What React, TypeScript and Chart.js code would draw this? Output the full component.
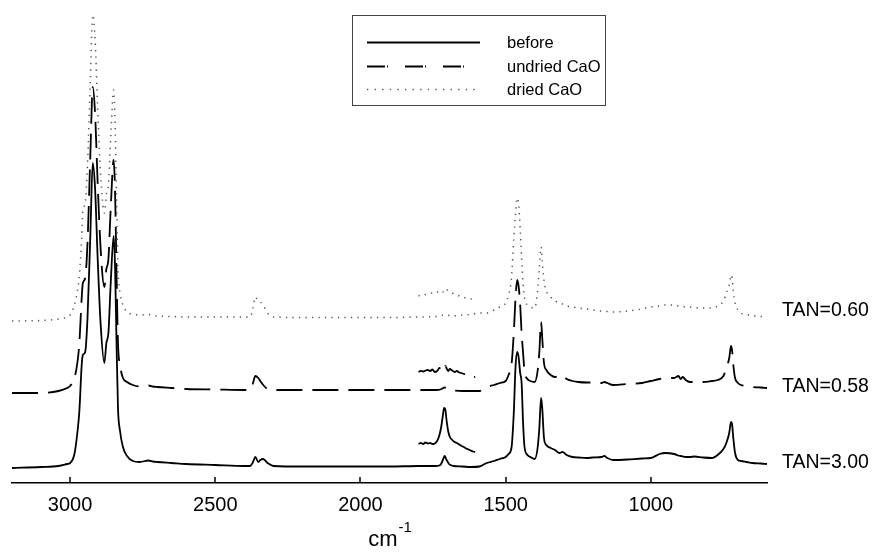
import React, { useEffect, useRef } from "react";
import { Chart, registerables } from "chart.js";

Chart.register(...registerables);

// Wavenumber grid (cm^-1) shared by the three full spectra
const WAVENUMBERS = [
  3200, 3100, 3040, 3010, 3000, 2985, 2975, 2968, 2960, 2956, 2948, 2940, 2930, 2922, 2914, 2905,
  2895, 2882, 2875, 2868, 2860, 2850, 2845, 2840, 2835, 2828, 2818, 2804, 2784, 2760, 2730, 2715,
  2700, 2650, 2600, 2500, 2400, 2380, 2370, 2362, 2352, 2345, 2335, 2320, 2300, 2200, 2100, 2000,
  1900, 1800, 1740, 1725, 1715, 1710, 1705, 1695, 1680, 1650, 1620, 1590, 1565, 1540, 1520, 1500,
  1490, 1480, 1472, 1466, 1460, 1455, 1450, 1445, 1440, 1435, 1425, 1415, 1400, 1390, 1384, 1378,
  1374, 1368, 1360, 1345, 1330, 1315, 1304, 1290, 1270, 1250, 1220, 1200, 1170, 1160, 1150, 1130,
  1080, 1030, 1000, 970, 950, 920, 905, 897, 890, 880, 865, 850, 820, 790, 770, 750,
  740, 730, 724, 720, 716, 710, 700, 690, 670, 650, 620, 600,
];

// Stacked absorbance (arbitrary units, offset spectra)
const BEFORE = [
  15, 16, 17, 19, 20, 29, 50, 72, 118, 128, 131, 165, 250, 320, 295, 225,
  160, 120, 140, 150, 200, 247, 215, 140, 75, 52, 36, 27, 22, 21, 22.5, 21.5,
  21, 20, 19, 18, 17, 17, 21, 26, 21, 23, 24, 20, 17, 16.5, 16.5, 16.5,
  16.5, 17, 17, 18, 24, 27, 24, 19, 17, 16.5, 16, 16.5, 20, 22, 24, 26,
  29, 35, 70, 116, 131, 125, 110, 100, 60, 36, 28, 26, 24, 35, 55, 85,
  75, 45, 38, 35, 33, 30, 31, 28, 26, 25.5, 25, 25.5, 26, 27, 25, 23,
  23.5, 24.5, 25, 29, 30, 29, 27.5, 27, 26.5, 26, 26, 26.5, 25.5, 25, 28, 34,
  40, 50, 61, 58, 45, 30, 23, 22, 21, 20, 19.5, 19,
];

const UNDRIED = [
  90, 90, 92, 95, 97, 105, 120, 140, 185, 200, 205, 240, 330, 396, 370, 300,
  235, 196, 214, 224, 275, 323, 290, 210, 140, 118, 105, 101, 98, 96.5, 97.5, 96.5,
  96, 95, 94, 93.5, 93, 93, 100, 107, 105, 102, 98, 94, 93, 93, 93, 93,
  93, 93, 93, 93.5, 95, 95.5, 95, 93, 92.5, 92, 92, 92, 96, 98, 100, 102,
  108, 118, 150, 185, 203, 196, 178, 150, 130, 112, 104, 102, 101, 112, 131, 161,
  145, 120, 113, 108, 106, 107, 108, 104, 102, 101, 100.5, 100.5, 100, 101, 100, 98,
  99, 100, 102, 104, 105, 105, 107, 104, 106, 103, 101, 101, 101, 102, 103, 107,
  115, 125, 137, 132, 118, 105, 100, 98, 97, 96, 95.5, 95,
];

const DRIED = [
  162, 162.5, 164, 166, 168, 178, 192, 208, 245, 272, 280, 318, 405, 468, 445, 375,
  310, 270, 288, 298, 345, 393, 360, 285, 215, 190, 178, 171, 169, 168, 168.5, 167.5,
  167, 166.5, 166, 166, 166, 166, 175, 186, 182, 181, 178, 170, 166, 165.5, 165.5, 165.5,
  165.5, 166, 166.5, 167, 168, 168, 168, 167.5, 167, 168, 168.5, 170, 170, 173, 176, 180,
  188, 205, 245, 268, 285, 278, 255, 225, 200, 185, 178, 176, 175, 192, 215, 236,
  222, 203, 192, 186, 182, 180, 179, 177, 176, 175, 174, 173, 172, 172, 171.5, 171,
  172, 174, 176, 177, 178, 178, 177, 176.5, 176.5, 176, 176, 175.5, 175, 175, 177, 182,
  190, 198, 208, 205, 192, 180, 173, 170, 168.5, 167.5, 166.5, 166,
];

// Magnified inset of the 1800-1600 cm^-1 carbonyl region
const INSET_WN = [
  1800, 1792, 1784, 1776, 1768, 1760, 1752, 1744, 1736, 1728, 1722, 1716, 1712, 1708, 1704, 1698,
  1692, 1684, 1676, 1668, 1660, 1652, 1644, 1636, 1628, 1620, 1612, 1605,
];
const INSET_BEFORE = [
  39, 40, 39, 40.5, 39.5, 40, 39, 39.5, 42, 48, 56, 68, 75, 74, 64, 52,
  46, 43, 41, 40, 38.5, 37, 36, 34.5, 33.5, 32.5, 31.5, 31,
];
const INSET_UNDRIED = [
  111, 112, 111.5, 112.5, 113, 112, 113.5, 111, 112, 115, 113, 116, 114, 117, 115, 112,
  114, 112.5, 111, 112, 110.5, 110, 109, 108.5, 107, 107.5, 106, 106,
];
const INSET_DRIED = [
  187, 188, 187.5, 188.5, 189, 189.5, 190, 189.5, 191, 190.5, 192, 191, 193, 192, 193.5, 192,
  191, 190, 189, 188.5, 187, 186, 185.5, 185, 184, 184, 183.5, 183,
];

const X_TICKS = [3000, 2500, 2000, 1500, 1000];
const SERIES_NAMES = ["before", "undried CaO", "dried CaO"];
const TAN_LABELS = ["TAN=3.00", "TAN=0.58", "TAN=0.60"];
const TAN_LEVELS = [15, 91, 167];

const FONT = '"Liberation Sans", Arial, Helvetica, sans-serif';
const SOLID = { color: "#000000", width: 1.8, dash: [] as number[] };
const DASHED = { color: "#000000", width: 1.8, dash: [26, 10] };
const DOTTED = { color: "#555555", width: 1.5, dash: [1.3, 5.2] };

function pts(xs: number[], ys: number[]) {
  return xs.map((x, i) => ({ x, y: ys[i] }));
}

export default function App() {
  const ref = useRef<HTMLCanvasElement>(null);

  useEffect(() => {
    document.body.style.margin = "0";
    const canvas = ref.current!;

    const overlay = {
      id: "overlay",
      afterDraw(chart: any) {
        const ctx = chart.ctx as CanvasRenderingContext2D;
        const xs = chart.scales.x;
        const ys = chart.scales.y;
        const area = chart.chartArea;
        ctx.save();
        // inward tick marks
        ctx.strokeStyle = "#000";
        ctx.lineWidth = 1.5;
        ctx.setLineDash([]);
        for (const t of X_TICKS) {
          const px = Math.round(xs.getPixelForValue(t));
          ctx.beginPath();
          ctx.moveTo(px, area.bottom);
          ctx.lineTo(px, area.bottom - 6);
          ctx.stroke();
        }
        // axis title cm^-1
        ctx.fillStyle = "#000";
        ctx.textBaseline = "alphabetic";
        ctx.textAlign = "left";
        ctx.font = `22px ${FONT}`;
        const mid = (area.left + area.right) / 2;
        const cmW = ctx.measureText("cm").width;
        ctx.font = `15px ${FONT}`;
        const supW = ctx.measureText("-1").width;
        const start = mid - (cmW + supW) / 2;
        ctx.font = `22px ${FONT}`;
        ctx.fillText("cm", start, 546);
        ctx.font = `15px ${FONT}`;
        ctx.fillText("-1", start + cmW + 1, 532);

        // TAN labels
        ctx.font = `19.5px ${FONT}`;
        TAN_LABELS.forEach((lab, i) => {
          ctx.fillText(lab, area.right + 15, ys.getPixelForValue(TAN_LEVELS[i]));
        });

        // legend box
        ctx.strokeStyle = "#444";
        ctx.lineWidth = 1;
        ctx.strokeRect(352.5, 15.5, 253, 90);
        const styles = [SOLID, DASHED, DOTTED];
        const rows = [42, 66, 89];
        const legDash = [[], [18, 2, 1, 17], [1.3, 6.3]];
        ctx.font = `16.5px ${FONT}`;
        ctx.textBaseline = "middle";
        styles.forEach((s, i) => {
          ctx.strokeStyle = s.color;
          ctx.lineWidth = s.width;
          ctx.setLineDash(legDash[i]);
          ctx.beginPath();
          ctx.moveTo(367, rows[i] + 0.5);
          ctx.lineTo(480, rows[i] + 0.5);
          ctx.stroke();
          ctx.setLineDash([]);
          ctx.fillStyle = "#000";
          ctx.fillText(SERIES_NAMES[i], 507, rows[i] + 1);
        });
        ctx.restore();
      },
    };

    const mk = (data: any, s: any) => ({
      data,
      borderColor: s.color,
      borderWidth: s.width,
      borderDash: s.dash,
      pointRadius: 0,
      fill: false,
      cubicInterpolationMode: "monotone" as const,
    });

    const chart = new Chart(canvas, {
      type: "line",
      data: {
        datasets: [
          mk(pts(WAVENUMBERS, DRIED), DOTTED),
          mk(pts(INSET_WN, INSET_DRIED), DOTTED),
          mk(pts(WAVENUMBERS, UNDRIED), DASHED),
          mk(pts(INSET_WN, INSET_UNDRIED), DASHED),
          mk(pts(WAVENUMBERS, BEFORE), SOLID),
          mk(pts(INSET_WN, INSET_BEFORE), SOLID),
        ],
      },
      options: {
        animation: false,
        responsive: false,
        layout: { padding: { left: 12, right: 108, top: 13, bottom: 0 } },
        plugins: { legend: { display: false }, tooltip: { enabled: false } },
        scales: {
          x: {
            type: "linear",
            reverse: true,
            min: 600,
            max: 3200,
            afterBuildTicks: (axis: any) => {
              axis.ticks = X_TICKS.map((v) => ({ value: v }));
            },
            afterFit: (axis: any) => {
              axis.height = 70;
            },
            grid: { display: false, drawTicks: false },
            border: { display: true, color: "#000", width: 1.5 },
            ticks: {
              color: "#000",
              padding: 10,
              font: { family: FONT, size: 20 },
              maxRotation: 0,
              callback: (v: any) => String(v),
            },
          },
          y: { type: "linear", display: false, min: 0, max: 470 },
        },
      },
      plugins: [overlay],
    });
    return () => chart.destroy();
  }, []);

  return (
    <div style={{ position: "absolute", left: 0, top: 0, width: 875, height: 553 }}>
      <canvas ref={ref} width={875} height={553} style={{ display: "block" }} />
    </div>
  );
}
